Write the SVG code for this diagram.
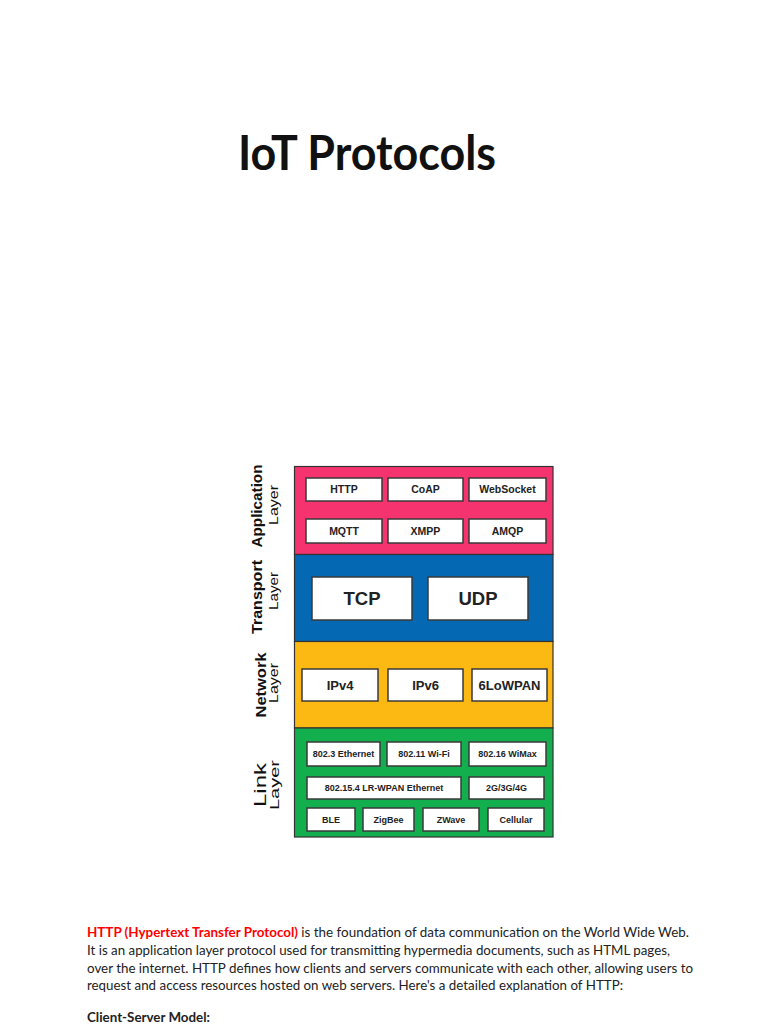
<svg xmlns="http://www.w3.org/2000/svg" width="768" height="1024" viewBox="0 0 768 1024">
<style>
.layer{stroke:#333;stroke-width:1.2}
.box{fill:#fff;stroke:#3a3a3a;stroke-width:1.5}
.bt{font-family:"Liberation Sans",Arial,sans-serif;font-weight:bold;fill:#222;text-anchor:middle}
.side{font-family:"Liberation Sans",Arial,sans-serif;fill:#111;text-anchor:middle}
.body{font-family:Lato,"Open Sans",sans-serif;font-size:13.4px;fill:#222}
</style>
<rect width="768" height="1024" fill="#fff"/>
<text x="238" y="170" font-family="Lato,'Open Sans',sans-serif" font-weight="bold" font-size="47.5" fill="#111" textLength="258" lengthAdjust="spacingAndGlyphs">IoT Protocols</text>

<g id="application-layer">
<rect class="layer" x="294.5" y="466.5" width="258.5" height="88" fill="#F5336F"/>
<text class="side" font-weight="bold" font-size="14.5" transform="translate(262,506) rotate(-90)" textLength="83" lengthAdjust="spacingAndGlyphs">Application</text>
<text class="side" font-size="13.5" transform="translate(277.5,505) rotate(-90)" textLength="40" lengthAdjust="spacingAndGlyphs">Layer</text>
</g>
<g id="http"><rect class="box" x="306" y="478" width="76" height="23"/><text class="bt" font-size="10.5" x="344" y="493.3">HTTP</text></g>
<g id="coap"><rect class="box" x="388" y="478" width="75" height="23"/><text class="bt" font-size="10.5" x="425.5" y="493.3">CoAP</text></g>
<g id="websocket"><rect class="box" x="469" y="478" width="77" height="23"/><text class="bt" font-size="10.5" x="507.5" y="493.3">WebSocket</text></g>
<g id="mqtt"><rect class="box" x="306" y="519" width="76" height="24"/><text class="bt" font-size="10.5" x="344" y="534.8">MQTT</text></g>
<g id="xmpp"><rect class="box" x="388" y="519" width="75" height="24"/><text class="bt" font-size="10.5" x="425.5" y="534.8">XMPP</text></g>
<g id="amqp"><rect class="box" x="469" y="519" width="77" height="24"/><text class="bt" font-size="10.5" x="507.5" y="534.8">AMQP</text></g>

<g id="transport-layer">
<rect class="layer" x="294.5" y="554.5" width="258.5" height="87" fill="#0468B2"/>
<text class="side" font-weight="bold" font-size="14.5" transform="translate(262,597) rotate(-90)" textLength="74" lengthAdjust="spacingAndGlyphs">Transport</text>
<text class="side" font-size="13.5" transform="translate(277.5,591) rotate(-90)" textLength="38" lengthAdjust="spacingAndGlyphs">Layer</text>
</g>
<g id="tcp"><rect class="box" x="312" y="577" width="100" height="43"/><text class="bt" font-size="18.5" x="362" y="605">TCP</text></g>
<g id="udp"><rect class="box" x="428" y="577" width="100" height="43"/><text class="bt" font-size="18.5" x="478" y="605">UDP</text></g>

<g id="network-layer">
<rect class="layer" x="294.5" y="641.5" width="258.5" height="86.5" fill="#FDB913"/>
<text class="side" font-weight="bold" font-size="15" transform="translate(266,685) rotate(-90)" textLength="65" lengthAdjust="spacingAndGlyphs">Network</text>
<text class="side" font-size="13.5" transform="translate(278,683) rotate(-90)" textLength="40" lengthAdjust="spacingAndGlyphs">Layer</text>
</g>
<g id="ipv4"><rect class="box" x="302" y="669" width="76" height="32"/><text class="bt" font-size="13" x="340" y="689.7">IPv4</text></g>
<g id="ipv6"><rect class="box" x="388" y="669" width="75" height="32"/><text class="bt" font-size="13" x="425.5" y="689.7">IPv6</text></g>
<g id="6lowpan"><rect class="box" x="472" y="669" width="75" height="32"/><text class="bt" font-size="13" x="509.5" y="689.7">6LoWPAN</text></g>

<g id="link-layer">
<rect class="layer" x="294.5" y="728" width="258.5" height="109" fill="#13AE4D"/>
<text class="side" font-size="16" transform="translate(266,785) rotate(-90)" textLength="44" lengthAdjust="spacingAndGlyphs">Link</text>
<text class="side" font-size="13.5" transform="translate(278.5,785) rotate(-90)" textLength="50" lengthAdjust="spacingAndGlyphs">Layer</text>
</g>
<g id="ethernet"><rect class="box" x="307" y="742" width="73" height="24"/><text class="bt" font-size="9" x="343.5" y="757.2">802.3 Ethernet</text></g>
<g id="wifi"><rect class="box" x="387" y="742" width="74" height="24"/><text class="bt" font-size="9" x="424" y="757.2">802.11 Wi-Fi</text></g>
<g id="wimax"><rect class="box" x="469" y="742" width="77" height="24"/><text class="bt" font-size="9" x="507.5" y="757.2">802.16 WiMax</text></g>
<g id="lrwpan"><rect class="box" x="307" y="777" width="154" height="22"/><text class="bt" font-size="9" x="384" y="791.2">802.15.4 LR-WPAN Ethernet</text></g>
<g id="cellular-gen"><rect class="box" x="469" y="777" width="75" height="22"/><text class="bt" font-size="9" x="506.5" y="791.2">2G/3G/4G</text></g>
<g id="ble"><rect class="box" x="307" y="808" width="48" height="23"/><text class="bt" font-size="9" x="331" y="822.7">BLE</text></g>
<g id="zigbee"><rect class="box" x="363" y="808" width="51" height="23"/><text class="bt" font-size="9" x="388.5" y="822.7">ZigBee</text></g>
<g id="zwave"><rect class="box" x="423" y="808" width="56" height="23"/><text class="bt" font-size="9" x="451" y="822.7">ZWave</text></g>
<g id="cellular"><rect class="box" x="488" y="808" width="56" height="23"/><text class="bt" font-size="9" x="516" y="822.7">Cellular</text></g>

<g id="connectors"></g>

<text class="body" x="87" y="937" textLength="602" lengthAdjust="spacingAndGlyphs"><tspan fill="#FF0000" font-weight="bold">HTTP (Hypertext Transfer Protocol)</tspan> is the foundation of data communication on the World Wide Web.</text>
<text class="body" x="87" y="955" textLength="583" lengthAdjust="spacingAndGlyphs">It is an application layer protocol used for transmitting hypermedia documents, such as HTML pages,</text>
<text class="body" x="87" y="972.5" textLength="606" lengthAdjust="spacingAndGlyphs">over the internet. HTTP defines how clients and servers communicate with each other, allowing users to</text>
<text class="body" x="87" y="990" textLength="536" lengthAdjust="spacingAndGlyphs">request and access resources hosted on web servers. Here's a detailed explanation of HTTP:</text>
<text class="body" x="87" y="1021.5" font-weight="bold" textLength="123" lengthAdjust="spacingAndGlyphs">Client-Server Model:</text>
</svg>
